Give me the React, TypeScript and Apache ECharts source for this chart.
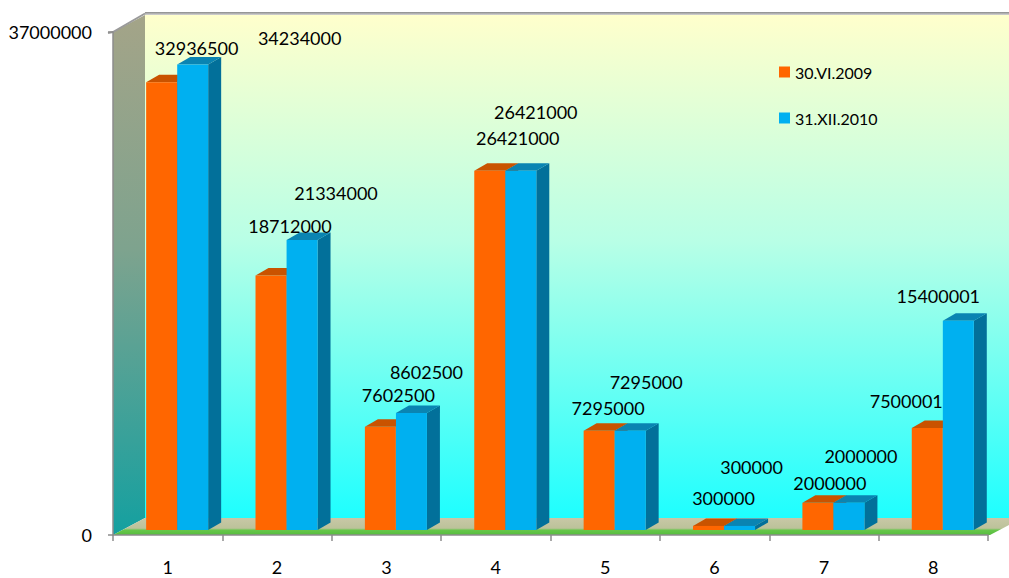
import React, { useEffect, useRef } from "react";
import * as echarts from "echarts";

const categories = ["1", "2", "3", "4", "5", "6", "7", "8"];
const seriesNames = ["30.VI.2009", "31.XII.2010"];
const values2009 = [32936500, 18712000, 7602500, 26421000, 7295000, 300000, 2000000, 7500001];
const values2010 = [34234000, 21334000, 8602500, 26421000, 7295000, 300000, 2000000, 15400001];
const yMin = 0;
const yMax = 37000000;

// label nudges (px) relative to each bar's front-top centre — layout only
const labelNudge2009 = [[35, -34], [19, -50], [18, -32], [28, -33], [9, -23], [15, -28], [12, -20], [-21, -27]];
const labelNudge2010 = [[107, -27], [34, -47], [15, -41], [15, -59], [16, -49], [12, -59], [12, -47], [-20, -25]];

const FONT = "Lato, 'Liberation Sans', sans-serif";

// plot frame (front plane) and 3D depth
const GL = 113, GR = 988, GT = 32, GB = 535;
const WX = 32, WY = -17; // wall depth
const LIFT = 5; // bars sit slightly behind the front floor edge
const BDX = 13, BDY = -7.5; // bar depth

function makeRenderItem(front: string, topC: string, sideC: string, leftFrac: number, nudges: number[][], values: number[]) {
  return (params: any, api: any) => {
    const i = api.value(0);
    const v = api.value(1);
    const p0 = api.coord([i, 0]);
    const p1 = api.coord([i, v]);
    const cw = api.size([1, 0])[0];
    const w = cw * 0.283;
    const l = p0[0] + cw * leftFrac;
    const r = l + w;
    const b = p0[1] - LIFT;
    const t = p1[1] - LIFT;
    const n = nudges[params.dataIndex] || [0, -20];
    return {
      type: "group",
      children: [
        {
          type: "polygon",
          shape: { points: [[r, t], [r + BDX, t + BDY], [r + BDX, b + BDY], [r, b]] },
          style: { fill: sideC },
        },
        {
          type: "polygon",
          shape: { points: [[l, t], [r, t], [r + BDX, t + BDY], [l + BDX, t + BDY]] },
          style: { fill: topC },
        },
        {
          type: "rect",
          shape: { x: l, y: t, width: w, height: b - t },
          style: { fill: front },
        },
        {
          type: "text",
          z2: 100,
          x: (l + r) / 2 + n[0],
          y: t + n[1],
          style: {
            text: String(values[params.dataIndex]),
            fill: "#000",
            fontSize: 18,
            fontFamily: FONT,
            align: "center",
            verticalAlign: "middle",
          },
        },
      ],
    };
  };
}

export default function App() {
  const ref = useRef<HTMLDivElement>(null);
  useEffect(() => {
    if (!ref.current) return;
    const chart = echarts.init(ref.current, undefined, { renderer: "svg" });
    const option: any = {
      animation: false,
      backgroundColor: "#ffffff",
      grid: { left: GL, right: 1009 - GR, top: GT, bottom: 578 - GB, containLabel: false },
      legend: {
        data: seriesNames,
        orient: "vertical",
        left: 779,
        top: 63,
        padding: 0,
        itemWidth: 11,
        itemHeight: 11,
        itemGap: 28,
        icon: "rect",
        textStyle: { fontFamily: FONT, fontSize: 16, color: "#000", lineHeight: 18 },
      },
      graphic: [
        {
          type: "rect",
          z: -10,
          silent: true,
          shape: { x: GL + WX, y: GT + WY, width: 1020 - (GL + WX), height: GB - GT },
          style: {
            fill: new echarts.graphic.LinearGradient(0, 0, 0, 1, [
              { offset: 0, color: "#ffffcc" },
              { offset: 0.45, color: "#b8ffe6" },
              { offset: 1, color: "#1effff" },
            ]),
          },
        },
        {
          type: "rect",
          z: -9,
          silent: true,
          shape: { x: GL + WX, y: GT + WY - 3, width: 1020 - (GL + WX), height: 3 },
          style: {
            fill: new echarts.graphic.LinearGradient(0, 0, 0, 1, [
              { offset: 0, color: "#8a8a8a" },
              { offset: 1, color: "#d6d6d6" },
            ]),
          },
        },
        {
          type: "polygon",
          z: -9,
          silent: true,
          shape: { points: [[GL, GT], [GL + WX, GT + WY], [GL + WX, GB + WY], [GL, GB]] },
          style: {
            fill: new echarts.graphic.LinearGradient(0, 0, 0, 1, [
              { offset: 0, color: "#a4a488" },
              { offset: 0.45, color: "#7ea38e" },
              { offset: 1, color: "#14a0a0" },
            ]),
          },
        },
        {
          type: "polyline",
          z: -8,
          silent: true,
          shape: { points: [[GL - 5, GT + 1], [GL, GT], [GL + WX, GT + WY - 1.5]] },
          style: { stroke: "#9a9a9a", lineWidth: 2, fill: null },
        },
        {
          type: "polygon",
          z: -9,
          silent: true,
          shape: { points: [[GL, GB], [GR + 2, GB], [GR + 2 + WX, GB + WY], [GL + WX, GB + WY]] },
          style: {
            fill: new echarts.graphic.LinearGradient(0, 0, 0, 1, [
              { offset: 0, color: "#c8c8a6" },
              { offset: 0.6, color: "#bcc29a" },
              { offset: 0.72, color: "#66c64a" },
              { offset: 1, color: "#56bd3e" },
            ]),
          },
        },
      ],
      xAxis: {
        type: "category",
        data: categories,
        axisLine: { show: true, lineStyle: { color: "#8c8c8c", width: 1.5 } },
        axisTick: { show: true, length: 6, lineStyle: { color: "#8c8c8c", width: 1.5 } },
        axisLabel: { margin: 23, color: "#000", fontSize: 18, fontFamily: FONT },
        splitLine: { show: false },
      },
      yAxis: {
        type: "value",
        min: yMin,
        max: yMax,
        interval: yMax - yMin,
        axisLine: { show: true, lineStyle: { color: "#8c8c8c", width: 1.5 } },
        axisTick: { show: true, length: 5, lineStyle: { color: "#8c8c8c", width: 1.5 } },
        axisLabel: {
          margin: 21,
          color: "#000",
          fontSize: 18,
          fontFamily: FONT,
          formatter: (v: number) => String(v),
        },
        splitLine: { show: false },
      },
      series: [
        {
          name: seriesNames[0],
          type: "custom",
          itemStyle: { color: "#ff6600" },
          encode: { x: 0, y: 1 },
          data: values2009.map((v, i) => [i, v]),
          renderItem: makeRenderItem("#ff6600", "#c95300", "#b84a00", -0.197, labelNudge2009, values2009),
        },
        {
          name: seriesNames[1],
          type: "custom",
          itemStyle: { color: "#00b0f0" },
          encode: { x: 0, y: 1 },
          data: values2010.map((v, i) => [i, v]),
          renderItem: makeRenderItem("#00b0f0", "#0a84b2", "#02709a", 0.087, labelNudge2010, values2010),
        },
      ],
    };
    chart.setOption(option);
    return () => chart.dispose();
  }, []);
  return (
    <div
      ref={ref}
      style={{ position: "absolute", left: 0, top: 0, width: 1009, height: 578 }}
    />
  );
}
